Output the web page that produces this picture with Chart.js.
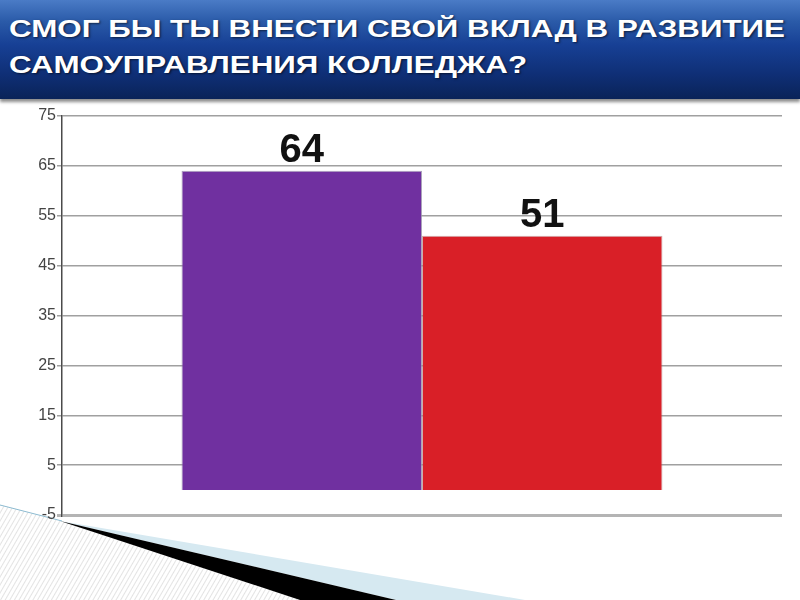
<!DOCTYPE html>
<html>
<head>
<meta charset="utf-8">
<script src="https://cdn.jsdelivr.net/npm/chart.js@4"></script>
<style>
  html, body { margin: 0; padding: 0; background: #fff; }
  #page { position: relative; width: 800px; height: 600px; overflow: hidden; background: #fff; }
  #banner {
    position: absolute; left: 0; top: 0; width: 800px; height: 99px;
    background: linear-gradient(#4a7bc6 0%, #2a5aa8 22%, #174095 45%, #0f2f76 75%, #0a2358 100%);
    box-shadow: 0 3px 3px rgba(0, 0, 0, 0.45);
  }
  .title-line {
    position: absolute; left: 9px; white-space: nowrap;
    font-family: "Liberation Sans", Arial, sans-serif; font-weight: bold;
    font-size: 24px; line-height: 24px; color: #fff;
    transform-origin: 0 0;
    text-shadow: 1px 1px 2px rgba(0, 0, 0, 0.6);
  }
  #line1 { top: 17px; }
  #line2 { top: 53px; }
  #swoosh { position: absolute; left: 0; top: 0; }
  #chart-wrap { position: absolute; left: 0; top: 100px; width: 800px; height: 500px; }
</style>
</head>
<body>
<div id="page">
  <svg id="swoosh" width="800" height="600">
    <defs>
      <pattern id="hatch" width="4" height="4" patternUnits="userSpaceOnUse" patternTransform="rotate(30)">
        <line x1="0" y1="0" x2="0" y2="4" stroke="#c8c8c8" stroke-width="1"/>
      </pattern>
    </defs>
    <polygon points="0,505 60,521 300,600 0,600" fill="url(#hatch)"/>
    <polygon points="60,521 525,600 396,600" fill="#d6e9f1"/>
    <polygon points="60,521 396,600 300,600" fill="#000"/>
    <line x1="0" y1="505" x2="62" y2="521" stroke="#8cbad0" stroke-width="1"/>
  </svg>
  <div id="banner">
    <div class="title-line" id="line1">СМОГ БЫ ТЫ ВНЕСТИ СВОЙ ВКЛАД В РАЗВИТИЕ</div>
    <div class="title-line" id="line2">САМОУПРАВЛЕНИЯ КОЛЛЕДЖА?</div>
  </div>
  <div id="chart-wrap"><canvas id="bar-chart" width="800" height="500"></canvas></div>
</div>

<script>
// ====
// Data
// ====
const categories = [''];
const seriesNames = ['Да', 'Нет'];
const firstValues = [64];
const secondValues = [51];
const yTicks = [-5, 5, 15, 25, 35, 45, 55, 65, 75];

// =====
// Title
// =====
//  stretch both title lines the same amount so line 1 spans the banner
const line1 = document.getElementById('line1');
const line2 = document.getElementById('line2');
const stretch = 776 / line1.getBoundingClientRect().width;
line1.style.transform = `scaleX(${stretch})`;
line2.style.transform = `scaleX(${stretch})`;

// =========
// Bar chart
// =========
const barCanvas = document.getElementById('bar-chart');

//  Value labels above the bars
const valueLabels = {
  id: 'valueLabels',
  afterDatasetsDraw(chart) {
    const ctx = chart.ctx;
    ctx.save();
    ctx.font = 'bold 40px "Liberation Sans", Arial, sans-serif';
    ctx.fillStyle = '#111';
    ctx.textAlign = 'center';
    ctx.textBaseline = 'alphabetic';
    chart.data.datasets.forEach((ds, i) => {
      chart.getDatasetMeta(i).data.forEach((bar, j) => {
        ctx.fillText(ds.data[j], bar.x, bar.y - 9);
      });
    });
    ctx.restore();
  },
};

const barData = {
  labels: categories,
  datasets: [
    {
      label: seriesNames[0],
      data: firstValues,
      backgroundColor: '#7030a0',
      borderColor: 'rgba(150, 140, 170, 0.8)',
      borderWidth: 1,
    },
    {
      label: seriesNames[1],
      data: secondValues,
      backgroundColor: '#d91f27',
      borderColor: 'rgba(170, 120, 120, 0.6)',
      borderWidth: 1,
    },
  ],
};

const barOptions = {
  responsive: false,
  animation: false,
  layout: {
    padding: {top: 16, right: 18, bottom: 85, left: 0},
  },
  datasets: {
    bar: {barPercentage: 1, categoryPercentage: 0.668},
  },
  scales: {
    x: {display: false},
    y: {
      min: -5,
      max: 75,
      afterBuildTicks: (scale) => {
        scale.ticks = yTicks.map((v) => ({value: v}));
      },
      afterFit: (scale) => {
        scale.width = 62;
      },
      border: {display: true, color: '#4a4a4a', width: 1.5},
      grid: {
        color: (c) => (c.tick && c.tick.value === -5 ? '#b4b4b4' : '#a0a0a0'),
        lineWidth: (c) => (c.tick && c.tick.value === -5 ? 3 : 1.5),
        tickLength: 5,
      },
      ticks: {
        color: '#444',
        padding: 1,
        font: {family: '"Liberation Sans", Arial, sans-serif', size: 16},
      },
    },
  },
  plugins: {
    legend: {display: false},
    tooltip: {enabled: false},
  },
};

let barChart = new Chart(barCanvas, {
  type: 'bar',
  data: barData,
  options: barOptions,
  plugins: [valueLabels],
});
</script>
</body>
</html>
